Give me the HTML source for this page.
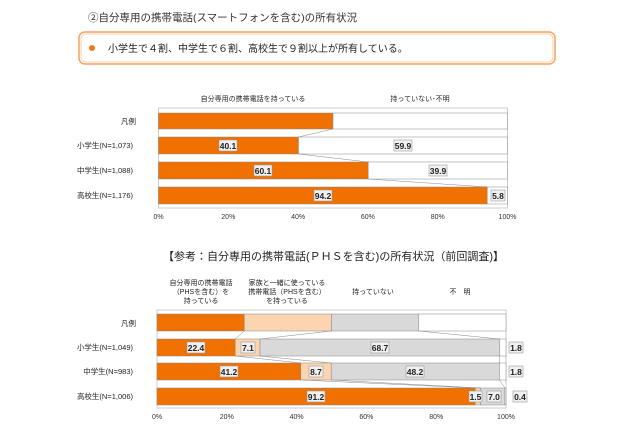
<!DOCTYPE html>
<html><head><meta charset="utf-8"><style>
body{margin:0;background:#fff;}
svg{display:block;font-family:"Liberation Sans","Noto Sans CJK JP",sans-serif;}
.lb rect{fill:#f0f0f0;stroke:#999;stroke-width:0.6}
.lb text{font-size:8.5px;font-weight:bold;fill:#222;text-anchor:middle}
.ax{font-size:7px;fill:#333;text-anchor:middle}
.rl{font-size:7.5px;fill:#222;text-anchor:end}
.hd{font-size:7px;fill:#222;text-anchor:middle}
</style></head><body>
<svg width="640" height="426" viewBox="0 0 640 426">
<text x="88" y="21" font-size="10.5" fill="#333">②自分専用の携帯電話(スマートフォンを含む)の所有状況</text>
<rect x="79" y="32" width="476" height="32" rx="6" fill="#fff" stroke="#f4a460" stroke-width="1.5"/>
<rect x="81" y="34" width="472" height="28" rx="5" fill="none" stroke="#fbd3b0" stroke-width="1"/>
<circle cx="92" cy="48" r="3" fill="#f07a1a"/>
<text x="108" y="52" font-size="10" fill="#222">小学生で４割、中学生で６割、高校生で９割以上が所有している。</text>

<text class="hd" x="253" y="101">自分専用の携帯電話を持っている</text>
<text class="hd" x="420" y="101">持っていない･不明</text>
<rect x="158.5" y="108" width="349" height="100" fill="#fff" stroke="#ccc"/>
<g stroke="#888" stroke-width="0.5">
<rect x="158.5" y="113" width="174.5" height="16" fill="#f07000"/>
<rect x="333" y="113" width="174.5" height="16" fill="#fff"/>
<rect x="158.5" y="137" width="140" height="17" fill="#f07000"/>
<rect x="298.5" y="137" width="209" height="17" fill="#fff"/>
<rect x="158.5" y="162" width="209.7" height="17" fill="#f07000"/>
<rect x="368.2" y="162" width="139.3" height="17" fill="#fff"/>
<rect x="158.5" y="187" width="328.8" height="17" fill="#f07000"/>
<rect x="487.3" y="187" width="20.2" height="17" fill="#fff"/>
<line x1="333" y1="129" x2="298.5" y2="137"/>
<line x1="298.5" y1="154" x2="368.2" y2="162"/>
<line x1="368.2" y1="179" x2="487.3" y2="187"/>
</g>
<text class="rl" x="136" y="124">凡例</text>
<text class="rl" x="133" y="148">小学生(N=1,073)</text>
<text class="rl" x="133" y="173">中学生(N=1,088)</text>
<text class="rl" x="133" y="198">高校生(N=1,176)</text>
<g class="lb">
<rect x="219" y="140" width="18" height="11"/><text x="228" y="149">40.1</text>
<rect x="394" y="140" width="18" height="11"/><text x="403" y="149">59.9</text>
<rect x="254" y="165" width="18" height="11"/><text x="263" y="174">60.1</text>
<rect x="429" y="165" width="18" height="11"/><text x="438" y="174">39.9</text>
<rect x="314" y="190" width="18" height="11"/><text x="323" y="199">94.2</text>
<rect x="491" y="190" width="14" height="11"/><text x="498" y="199">5.8</text>
</g>
<g class="ax"><text x="158.5" y="219">0%</text><text x="228.3" y="219">20%</text><text x="298.1" y="219">40%</text><text x="367.9" y="219">60%</text><text x="437.7" y="219">80%</text><text x="507.5" y="219">100%</text></g>

<text x="163" y="260" font-size="11" fill="#222">【参考：自分専用の携帯電話(ＰＨＳを含む)の所有状況（前回調査)】</text>
<g class="hd">
<text x="201" y="285">自分専用の携帯電話</text><text x="201" y="294">（PHSを含む）を</text><text x="201" y="303">持っている</text>
<text x="287" y="285">家族と一緒に使っている</text><text x="287" y="294">携帯電話（PHSを含む）</text><text x="287" y="303">を持っている</text>
<text x="373" y="294">持っていない</text>
<text x="460" y="294">不　明</text>
</g>
<rect x="157" y="310" width="349" height="98" fill="#fff" stroke="#ccc"/>
<g stroke="#888" stroke-width="0.5">
<rect x="157" y="314" width="87.3" height="17" fill="#f07000"/>
<rect x="244.3" y="314" width="87.2" height="17" fill="#fbd5b0"/>
<rect x="331.5" y="314" width="87.3" height="17" fill="#d9d9d9"/>
<rect x="418.8" y="314" width="87.2" height="17" fill="#fff"/>
<rect x="157" y="339" width="78.2" height="17" fill="#f07000"/>
<rect x="235.2" y="339" width="24.8" height="17" fill="#fbd5b0"/>
<rect x="260" y="339" width="239.8" height="17" fill="#d9d9d9"/>
<rect x="499.8" y="339" width="6.2" height="17" fill="#fff"/>
<rect x="157" y="363" width="143.8" height="17" fill="#f07000"/>
<rect x="300.8" y="363" width="30.4" height="17" fill="#fbd5b0"/>
<rect x="331.2" y="363" width="168.2" height="17" fill="#d9d9d9"/>
<rect x="499.4" y="363" width="6.6" height="17" fill="#fff"/>
<rect x="157" y="388" width="318.3" height="17" fill="#f07000"/>
<rect x="475.3" y="388" width="5.2" height="17" fill="#fbd5b0"/>
<rect x="480.5" y="388" width="24.4" height="17" fill="#d9d9d9"/>
<rect x="504.9" y="388" width="1.1" height="17" fill="#fff"/>
<line x1="244.3" y1="331" x2="235.2" y2="339"/><line x1="331.5" y1="331" x2="260" y2="339"/><line x1="418.8" y1="331" x2="499.8" y2="339"/>
<line x1="235.2" y1="356" x2="300.8" y2="363"/><line x1="260" y1="356" x2="331.2" y2="363"/><line x1="499.8" y1="356" x2="499.4" y2="363"/>
<line x1="300.8" y1="380" x2="475.3" y2="388"/><line x1="331.2" y1="380" x2="480.5" y2="388"/><line x1="499.4" y1="380" x2="504.9" y2="388"/>
</g>
<text class="rl" x="136" y="326">凡例</text>
<text class="rl" x="133" y="350">小学生(N=1,049)</text>
<text class="rl" x="133" y="374">中学生(N=983)</text>
<text class="rl" x="133" y="399">高校生(N=1,006)</text>
<g class="lb">
<rect x="187" y="342" width="18" height="11"/><text x="196" y="351">22.4</text>
<rect x="241" y="342" width="14" height="11"/><text x="248" y="351">7.1</text>
<rect x="371" y="342" width="18" height="11"/><text x="380" y="351">68.7</text>
<rect x="509" y="342" width="14" height="11"/><text x="516" y="351">1.8</text>
<rect x="220" y="366" width="18" height="11"/><text x="229" y="375">41.2</text>
<rect x="309" y="366" width="14" height="11"/><text x="316" y="375">8.7</text>
<rect x="406" y="366" width="18" height="11"/><text x="415" y="375">48.2</text>
<rect x="509" y="366" width="14" height="11"/><text x="516" y="375">1.8</text>
<rect x="307" y="391" width="18" height="11"/><text x="316" y="400">91.2</text>
<rect x="469" y="391" width="13" height="11"/><text x="475.5" y="400">1.5</text>
<rect x="487" y="391" width="14" height="11"/><text x="494" y="400">7.0</text>
<rect x="513" y="391" width="14" height="11"/><text x="520" y="400">0.4</text>
</g>
<g class="ax"><text x="157" y="419">0%</text><text x="226.8" y="419">20%</text><text x="296.6" y="419">40%</text><text x="366.4" y="419">60%</text><text x="436.2" y="419">80%</text><text x="506" y="419">100%</text></g>
</svg>
</body></html>
